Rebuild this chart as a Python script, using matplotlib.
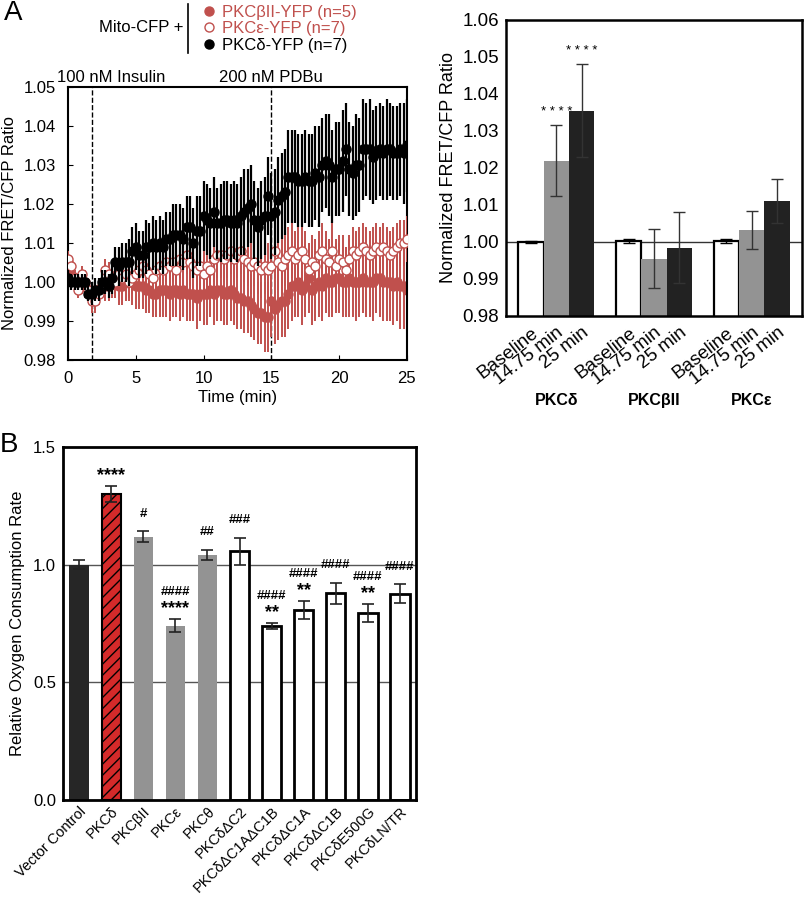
import numpy as np
import matplotlib.pyplot as plt
from matplotlib.lines import Line2D
import matplotlib.transforms as mtransforms

plt.rcParams['font.family'] = ['Liberation Sans', 'DejaVu Sans']
plt.rcParams['font.size'] = 12

RED = '#c0504d'

# --- Panel A (left): FRET/CFP time course, one point every 0.25 min ---
time_min = np.arange(101) * 0.25

delta_mean = [
    1.001, 1.000, 1.000, 1.000,  1.000, 1.000, 0.997, 0.997,
    0.998, 0.998, 1.000, 1.000,  0.999, 1.001, 1.005, 1.004,
    1.005, 1.005, 1.005, 1.008,  1.009, 1.007, 1.007, 1.009,
    1.009, 1.010, 1.009, 1.010,  1.009, 1.011, 1.011, 1.012,
    1.012, 1.012, 1.011, 1.014,  1.014, 1.010, 1.013, 1.013,
    1.017, 1.016, 1.015, 1.018,  1.015, 1.015, 1.016, 1.016,
    1.015, 1.016, 1.015, 1.017,  1.018, 1.019, 1.020, 1.016,
    1.014, 1.016, 1.017, 1.022,  1.017, 1.018, 1.021, 1.022,
    1.023, 1.027, 1.027, 1.027,  1.026, 1.026, 1.027, 1.026,
    1.026, 1.028, 1.027, 1.030,  1.031, 1.030, 1.027, 1.029,
    1.029, 1.031, 1.034, 1.029,  1.028, 1.030, 1.030, 1.034,
    1.034, 1.034, 1.032, 1.033,  1.034, 1.033, 1.034, 1.034,
    1.033, 1.033, 1.034, 1.033,  1.035]
delta_err = [
    .002, .002, .002, .002,  .002, .002, .002, .003,
    .003, .003, .003, .003,  .003, .004, .004, .005,
    .005, .005, .006, .006,  .006, .006, .006, .007,
    .006, .007, .007, .007,  .007, .007, .007, .008,
    .008, .008, .008, .008,  .008, .009, .009, .009,
    .009, .009, .009, .009,  .009, .010, .010, .010,
    .010, .010, .010, .010,  .011, .010, .010, .010,
    .010, .010, .010, .010,  .011, .011, .011, .011,
    .011, .012, .012, .012,  .012, .012, .012, .012,
    .012, .012, .013, .012,  .012, .013, .012, .012,
    .012, .013, .012, .012,  .012, .013, .012, .013,
    .012, .013, .012, .012,  .012, .012, .013, .012,
    .012, .012, .012, .013,  .012]

betaII_mean = [
    1.005, 1.002, 1.001, 1.000,  0.999, 0.999, 0.998, 0.997,
    0.998, 0.998, 0.999, 0.999,  0.999, 1.000, 1.000, 0.999,
    0.999, 1.000, 1.000, 1.000,  0.999, 0.999, 0.999, 0.998,
    0.998, 0.997, 0.997, 0.998,  0.998, 0.998, 0.997, 0.998,
    0.998, 0.997, 0.998, 0.997,  0.997, 0.997, 0.996, 0.997,
    0.997, 0.997, 0.998, 0.997,  0.998, 0.998, 0.997, 0.997,
    0.998, 0.997, 0.996, 0.996,  0.995, 0.995, 0.994, 0.993,
    0.992, 0.992, 0.991, 0.991,  0.995, 0.993, 0.994, 0.995,
    0.995, 0.997, 0.999, 0.999,  1.000, 0.998, 0.999, 1.001,
    0.998, 0.999, 1.000, 0.999,  1.001, 1.000, 1.000, 1.001,
    1.001, 1.000, 1.000, 1.001,  1.000, 1.000, 1.000, 1.001,
    1.000, 1.000, 1.000, 1.001,  1.001, 1.000, 1.000, 1.000,
    0.999, 1.000, 0.999, 0.999,  0.998]
betaII_err = [
    .002, .002, .002, .002,  .002, .003, .003, .003,
    .003, .003, .003, .004,  .004, .004, .004, .005,
    .005, .005, .005, .006,  .006, .006, .006, .006,
    .006, .006, .006, .007,  .007, .007, .007, .007,
    .007, .007, .007, .007,  .007, .007, .008, .007,
    .008, .008, .007, .008,  .008, .008, .008, .008,
    .008, .008, .008, .008,  .008, .008, .008, .008,
    .008, .008, .009, .009,  .009, .009, .009, .009,
    .009, .009, .009, .008,  .009, .009, .008, .009,
    .009, .009, .009, .009,  .009, .009, .009, .009,
    .009, .009, .009, .010,  .009, .010, .009, .009,
    .009, .009, .010, .009,  .010, .010, .010, .010,
    .010, .010, .011, .011,  .011]

eps_mean = [
    1.006, 1.004, 1.001, 0.998,  1.002, 1.000, 0.998, 0.995,
    0.995, 0.997, 0.999, 1.003,  1.002, 1.000, 1.000, 1.002,
    1.001, 1.002, 1.000, 1.001,  1.002, 1.003, 1.004, 1.003,
    1.002, 1.001, 1.003, 1.004,  1.003, 1.005, 1.004, 1.005,
    1.003, 1.006, 1.005, 1.007,  1.005, 1.004, 1.003, 1.004,
    1.002, 1.004, 1.003, 1.006,  1.007, 1.007, 1.006, 1.007,
    1.008, 1.006, 1.007, 1.008,  1.006, 1.005, 1.004, 1.005,
    1.004, 1.003, 1.004, 1.003,  1.004, 1.008, 1.005, 1.004,
    1.006, 1.007, 1.008, 1.006,  1.007, 1.008, 1.006, 1.003,
    1.005, 1.004, 1.007, 1.008,  1.006, 1.005, 1.008, 1.004,
    1.006, 1.005, 1.003, 1.006,  1.008, 1.007, 1.008, 1.009,
    1.008, 1.007, 1.008, 1.009,  1.008, 1.009, 1.008, 1.007,
    1.008, 1.009, 1.010, 1.010,  1.011]
eps_err = [
    .002, .002, .002, .002,  .002, .003, .003, .003,
    .003, .003, .003, .003,  .003, .003, .004, .004,
    .004, .004, .004, .004,  .004, .005, .005, .005,
    .005, .005, .005, .005,  .005, .005, .005, .005,
    .005, .005, .006, .005,  .006, .006, .006, .006,
    .006, .006, .006, .006,  .006, .006, .006, .006,
    .006, .006, .006, .006,  .006, .006, .007, .006,
    .007, .007, .007, .007,  .007, .007, .007, .007,
    .007, .007, .007, .007,  .007, .007, .007, .007,
    .007, .007, .006, .007,  .007, .006, .007, .007,
    .006, .007, .006, .006,  .006, .006, .006, .006,
    .006, .006, .006, .006,  .006, .006, .006, .006,
    .006, .006, .006, .006,  .006]

# --- Panel A (right): bar summary ---
groups = ['PKC\u03b4', 'PKC\u03b2II', 'PKC\u03b5']
conditions = ['Baseline', '14.75 min', '25 min']
bar_base = [1.0000, 1.0003, 1.0002]
bar_base_err = [0.0003, 0.0005, 0.0005]
bar_1475 = [1.0220, 0.9955, 1.0033]
bar_1475_err = [0.0095, 0.0080, 0.0052]
bar_25 = [1.0355, 0.9985, 1.0110]
bar_25_err = [0.0125, 0.0095, 0.0060]

# --- Panel B: oxygen consumption ---
ocr_labels = ['Vector Control', 'PKC\u03b4', 'PKC\u03b2II', 'PKC\u03b5', 'PKC\u03b8',
              'PKC\u03b4\u0394C2', 'PKC\u03b4\u0394C1A\u0394C1B', 'PKC\u03b4\u0394C1A',
              'PKC\u03b4\u0394C1B', 'PKC\u03b4E500G', 'PKC\u03b4LN/TR']
ocr_mean = [1.00, 1.30, 1.118, 0.74, 1.042, 1.057, 0.74, 0.808, 0.879, 0.794, 0.877]
ocr_err = [0.02, 0.033, 0.023, 0.027, 0.022, 0.058, 0.012, 0.037, 0.045, 0.037, 0.039]
ocr_stars = ['', '****', '', '****', '', '', '**', '**', '', '**', '']
ocr_hash = ['', '', '#', '####', '##', '###', '####', '####', '####', '####', '####']

fig = plt.figure(figsize=(8.05, 9.02), dpi=100)

# ---------------- time course ----------------
ax1 = fig.add_axes([0.0845, 0.6009, 0.421, 0.3027])
ax1.errorbar(time_min, betaII_mean, yerr=betaII_err, fmt='o', color=RED,
             ecolor=RED, elinewidth=1.4, ms=6.5, mec=RED, zorder=2)
ax1.errorbar(time_min, eps_mean, yerr=eps_err, fmt='o', color=RED,
             ecolor=RED, elinewidth=1.4, ms=6.5, mfc='white', mec=RED,
             mew=1.0, zorder=3)
ax1.errorbar(time_min, delta_mean, yerr=delta_err, fmt='o', color='black',
             ecolor='black', elinewidth=1.6, ms=6.5, zorder=4)
ax1.axvline(1.75, color='black', ls='--', lw=1, zorder=1)
ax1.axvline(15, color='black', ls='--', lw=1, zorder=1)
ax1.set_xlim(0, 25)
ax1.set_ylim(0.98, 1.05)
ax1.set_xticks([0, 5, 10, 15, 20, 25])
yt1 = np.arange(0.98, 1.051, 0.01)
ax1.set_yticks(yt1)
ax1.set_yticklabels(['%.2f' % v for v in yt1])
ax1.tick_params(direction='in', labelsize=12)
ax1.tick_params(axis='y', pad=9)
ax1.tick_params(axis='x', pad=8)
ax1.set_xlabel('Time (min)', fontsize=12, labelpad=3)
ax1.set_ylabel('Normalized FRET/CFP Ratio', fontsize=12, labelpad=4)
for s in ax1.spines.values():
    s.set_linewidth(1.5)
ax1.text(3.2, 1.0506, '100 nM Insulin', ha='center', va='bottom', fontsize=12)
ax1.text(15, 1.0506, '200 nM PDBu', ha='center', va='bottom', fontsize=12)

# legend block
fig.text(183 / 805, 1 - 28 / 902, 'Mito-CFP +', ha='right', va='center', fontsize=12)
fig.add_artist(Line2D([188 / 805, 188 / 805], [1 - 4 / 902, 1 - 53 / 902],
                      color='black', lw=1.2))
handles = [Line2D([], [], marker='o', ls='none', color=RED, ms=6.5),
           Line2D([], [], marker='o', ls='none', color=RED, mfc='white', ms=6.5),
           Line2D([], [], marker='o', ls='none', color='black', ms=6.5)]
leg = fig.legend(handles, ['PKC\u03b2II-YFP (n=5)', 'PKC\u03b5-YFP (n=7)', 'PKC\u03b4-YFP (n=7)'],
                 loc='upper left', bbox_to_anchor=(192 / 805, 1.006), frameon=False,
                 handlelength=0.8, handletextpad=0.4, labelspacing=0.1, fontsize=12,
                 borderpad=0.1)
for txt, c in zip(leg.get_texts(), [RED, RED, 'black']):
    txt.set_color(c)

# ---------------- bar summary ----------------
ax2 = fig.add_axes([0.6286, 0.6497, 0.3677, 0.3282])
gx = np.arange(len(groups))
w = 0.26
ax2.axhline(1.0, color='#333333', lw=1, zorder=1)
ax2.bar(gx - w, bar_base, w, yerr=bar_base_err, color='white', edgecolor='black',
        lw=1.6, capsize=4, error_kw=dict(lw=1, capthick=1), zorder=2)
ax2.bar(gx, bar_1475, w, yerr=bar_1475_err, color='#939393', capsize=4,
        error_kw=dict(lw=1, capthick=1, ecolor='#333333'), zorder=2)
ax2.bar(gx + w, bar_25, w, yerr=bar_25_err, color='#222222', capsize=4,
        error_kw=dict(lw=1, capthick=1, ecolor='#333333'), zorder=2)
ax2.set_xlim(-0.515, 2.515)
ax2.set_ylim(0.98, 1.06)
yt = np.arange(0.98, 1.061, 0.01)
ax2.set_yticks(yt)
ax2.set_yticklabels(['%.2f' % v for v in yt])
ax2.set_xticks(np.concatenate([[g - w, g, g + w] for g in gx]))
ax2.set_xticklabels(conditions * len(groups), rotation=38, ha='right',
                    rotation_mode='anchor')
ax2.tick_params(length=0, labelsize=13.5)
ax2.tick_params(axis='y', pad=5)
ax2.tick_params(axis='x', pad=6)
ax2.set_ylabel('Normalized FRET/CFP Ratio', fontsize=13, labelpad=4)
for s in ax2.spines.values():
    s.set_linewidth(1.8)
trans2 = mtransforms.blended_transform_factory(ax2.transData, ax2.transAxes)
for g, name in zip(gx, groups):
    ax2.text(g, -0.285, name, transform=trans2, ha='center', va='center',
             fontsize=11.5, fontweight='bold')
ax2.text(0, bar_1475[0] + bar_1475_err[0] + 0.0035, '* * * *', ha='center',
         va='center', fontsize=9.5)
ax2.text(w, bar_25[0] + bar_25_err[0] + 0.0035, '* * * *', ha='center',
         va='center', fontsize=9.5)

# ---------------- panel B ----------------
ax3 = fig.add_axes([0.0783, 0.1131, 0.4385, 0.3914])
bx = np.arange(len(ocr_labels))
face = ['#262626', '#d42a2a', '#939393', '#939393', '#939393'] + ['white'] * 6
for y in [0.5, 1.0]:
    ax3.axhline(y, color='#555555', lw=1, zorder=0)
bars = ax3.bar(bx, ocr_mean, 0.6, color=face, zorder=2)
for i, b in enumerate(bars):
    if i == 1:
        b.set_hatch('///')
        b.set_edgecolor('black')
        b.set_linewidth(1.5)
    elif i >= 5:
        b.set_edgecolor('black')
        b.set_linewidth(2)
    else:
        b.set_linewidth(0)
ax3.errorbar(bx, ocr_mean, yerr=ocr_err, fmt='none', ecolor='#222222',
             elinewidth=1.2, capsize=4, capthick=1.2, zorder=3)
for i in bx:
    top = ocr_mean[i] + ocr_err[i]
    if ocr_stars[i] and ocr_hash[i]:
        ax3.text(i, top + 0.045, ocr_stars[i], ha='center', va='center',
                 fontsize=13, fontweight='bold')
        ax3.text(i, top + 0.115, ocr_hash[i], ha='center', va='center',
                 fontsize=9.5, fontweight='bold')
    elif ocr_stars[i]:
        ax3.text(i, top + 0.045, ocr_stars[i], ha='center', va='center',
                 fontsize=13, fontweight='bold')
    elif ocr_hash[i]:
        ax3.text(i, top + 0.075, ocr_hash[i], ha='center', va='center',
                 fontsize=9.5, fontweight='bold')
ax3.set_xlim(-0.5, 10.5)
ax3.set_ylim(0, 1.5)
ax3.set_yticks([0, 0.5, 1.0, 1.5])
ax3.set_yticklabels(['0.0', '0.5', '1.0', '1.5'])
ax3.set_xticks(bx)
ax3.set_xticklabels(ocr_labels, rotation=45, ha='right', rotation_mode='anchor',
                    fontsize=10.5)
ax3.tick_params(axis='y', length=0, labelsize=12, pad=5)
ax3.tick_params(axis='x', length=0, pad=3)
ax3.set_ylabel('Relative Oxygen Consumption Rate', fontsize=12, labelpad=6)
for s in ax3.spines.values():
    s.set_linewidth(2)

fig.text(0.005, 1 - 13 / 902, 'A', fontsize=20, va='center', ha='left')
fig.text(0.0, 1 - 445 / 902, 'B', fontsize=20, va='center', ha='left')

fig.savefig('out.png', dpi=100)
